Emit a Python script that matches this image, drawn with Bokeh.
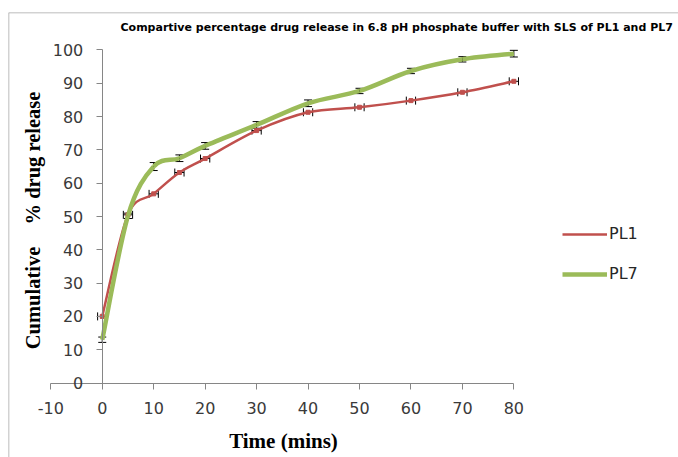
import numpy as np
from bokeh.plotting import figure
from bokeh.models import (LinearAxis, FixedTicker, Label, Span, Whisker, TeeHead,
                          ColumnDataSource, Legend, LegendItem, NumeralTickFormatter)
from bokeh.embed import file_html
from bokeh.resources import INLINE

# ---- data ----
time_min = [0, 5, 10, 15, 20, 30, 40, 50, 60, 70, 80]
pl1 = [20.0, 50.5, 56.8, 63.2, 67.4, 75.8, 81.3, 82.8, 84.8, 87.3, 90.6]
pl7 = [13.0, 50.2, 65.0, 67.5, 71.2, 77.5, 84.0, 87.7, 93.7, 97.2, 98.9]
pl1_xerr = [0.9, 0.9, 0.9, 0.9, 0.9, 0.9, 0.9, 0.9, 0.9, 0.9, 0.9]
pl7_yerr = [0.8, 0.8, 1.2, 1.0, 1.0, 1.0, 1.0, 0.8, 0.8, 0.8, 1.0]
x_ticks = [-10, 0, 10, 20, 30, 40, 50, 60, 70, 80]
y_ticks = [0, 10, 20, 30, 40, 50, 60, 70, 80, 90, 100]
title_text = "Compartive  percentage drug release in 6.8 pH phosphate  buffer with SLS of PL1 and PL7"
x_label = "Time (mins)"
y_label_parts = ["Cumulative", "% drug release"]
series_names = ["PL1", "PL7"]

RED = "#C0504D"
GREEN = "#9BBB59"
AXIS = "#868686"

X0, X1 = -18.22, 112.0
Y0, Y1 = -22.37, 111.26

p = figure(width=678, height=457, x_range=(X0, X1), y_range=(Y0, Y1),
           output_backend="svg", toolbar_location=None,
           x_axis_location=None, y_axis_location=None,
           min_border_left=8, min_border_right=0, min_border_bottom=0, min_border_top=12)
p.grid.visible = False
p.outline_line_color = None
p.background_fill_color = "white"
p.border_fill_color = "white"


def style_axis(ax):
    ax.axis_line_color = AXIS
    ax.axis_line_width = 1
    ax.major_tick_line_color = AXIS
    ax.major_tick_in = 0
    ax.major_tick_out = 6
    ax.minor_tick_line_color = None
    ax.major_label_text_font = "DejaVu Sans"
    ax.major_label_text_font_size = "16px"
    ax.major_label_text_color = "#3a3a3a"
    ax.major_label_standoff = 13
    ax.formatter = NumeralTickFormatter(format="0")


xax = LinearAxis(fixed_location=0, bounds=(x_ticks[0], x_ticks[-1]),
                 ticker=FixedTicker(ticks=x_ticks))
style_axis(xax)
p.add_layout(xax, "below")

yax = LinearAxis(fixed_location=0, bounds=(y_ticks[0], y_ticks[-1]),
                 ticker=FixedTicker(ticks=y_ticks))
style_axis(yax)
p.add_layout(yax, "left")

# outer chart border (top and left visible)
p.add_layout(Span(location=X0, dimension="height", line_color="#a6a6a6", line_width=1.5))
p.add_layout(Span(location=Y1, dimension="width", line_color="#a6a6a6", line_width=1.5))


def smooth_bezier(xs, ys):
    xs = np.asarray(xs, float)
    ys = np.asarray(ys, float)
    n = len(xs)
    x0s, y0s, x1s, y1s, cx0, cy0, cx1, cy1 = ([] for _ in range(8))
    for i in range(n - 1):
        im = max(i - 1, 0)
        ip = min(i + 2, n - 1)
        x0s.append(xs[i]); y0s.append(ys[i])
        x1s.append(xs[i + 1]); y1s.append(ys[i + 1])
        cx0.append(xs[i] + (xs[i + 1] - xs[im]) / 6)
        cy0.append(ys[i] + (ys[i + 1] - ys[im]) / 6)
        cx1.append(xs[i + 1] - (xs[ip] - xs[i]) / 6)
        cy1.append(ys[i + 1] - (ys[ip] - ys[i]) / 6)
    return dict(x0=x0s, y0=y0s, x1=x1s, y1=y1s, cx0=cx0, cy0=cy0, cx1=cx1, cy1=cy1)


p.bezier(source=ColumnDataSource(smooth_bezier(time_min, pl1)),
         x0="x0", y0="y0", x1="x1", y1="y1", cx0="cx0", cy0="cy0", cx1="cx1", cy1="cy1",
         line_color=RED, line_width=2.5)
p.scatter(time_min, pl1, marker="square", size=4, color=RED)
p.bezier(source=ColumnDataSource(smooth_bezier(time_min, pl7)),
         x0="x0", y0="y0", x1="x1", y1="y1", cx0="cx0", cy0="cy0", cx1="cx1", cy1="cy1",
         line_color=GREEN, line_width=4.5)

# error bars
src1 = ColumnDataSource(dict(y=pl1,
                             lo=[t - e for t, e in zip(time_min, pl1_xerr)],
                             hi=[t + e for t, e in zip(time_min, pl1_xerr)]))
p.add_layout(Whisker(source=src1, base="y", lower="lo", upper="hi", dimension="width",
                     line_color="black", line_width=1,
                     upper_head=TeeHead(size=8, line_color="black", line_width=1),
                     lower_head=TeeHead(size=8, line_color="black", line_width=1)))
src7 = ColumnDataSource(dict(x=time_min,
                             lo=[v - e for v, e in zip(pl7, pl7_yerr)],
                             hi=[v + e for v, e in zip(pl7, pl7_yerr)]))
p.add_layout(Whisker(source=src7, base="x", lower="lo", upper="hi", dimension="height",
                     line_color="black", line_width=1,
                     upper_head=TeeHead(size=8, line_color="black", line_width=1),
                     lower_head=TeeHead(size=8, line_color="black", line_width=1)))

# legend (renderers with a single undefined point, used only for the key)
l1 = p.line([np.nan], [np.nan], line_color=RED, line_width=2.5)
l7 = p.line([np.nan], [np.nan], line_color=GREEN, line_width=4.5)
legend = Legend(items=[LegendItem(label=series_names[0], renderers=[l1]),
                       LegendItem(label=series_names[1], renderers=[l7])],
                location=(554, 173.5), padding=0, margin=0, spacing=20,
                glyph_width=45, glyph_height=20, label_height=20, label_standoff=2,
                border_line_color=None, background_fill_alpha=0,
                label_text_font="DejaVu Sans", label_text_font_size="16px",
                label_text_color="#262626")
p.add_layout(legend)

# texts
p.add_layout(Label(x=3.55, y=106.76, text=title_text, text_font="DejaVu Sans",
                   text_font_style="bold", text_font_size="11px", text_color="#000000",
                   text_baseline="middle", text_align="left"))
p.add_layout(Label(x=35.23, y=-17.27, text=x_label, text_font="Liberation Serif",
                   text_font_style="bold", text_font_size="21px", text_color="#000000",
                   text_baseline="middle", text_align="center"))
p.add_layout(Label(x=-13.55, y=(382.5 - 297.5) / 3.33, text=y_label_parts[0],
                   text_font="Liberation Serif",
                   text_font_style="bold", text_font_size="20.5px", text_color="#000000",
                   text_baseline="middle", text_align="center", angle=np.pi / 2))
p.add_layout(Label(x=-13.55, y=(382.5 - 157.5) / 3.33, text=y_label_parts[1],
                   text_font="Liberation Serif",
                   text_font_style="bold", text_font_size="20.5px", text_color="#000000",
                   text_baseline="middle", text_align="center", angle=np.pi / 2))

open("out.html", "w").write(file_html(p, INLINE))
